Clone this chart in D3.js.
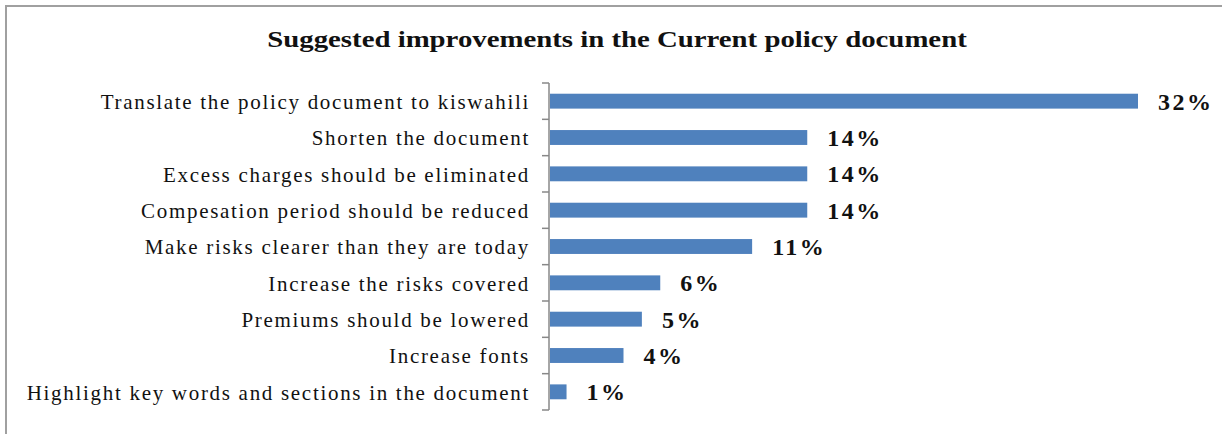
<!DOCTYPE html>
<html>
<head>
<meta charset="utf-8">
<script src="https://cdn.jsdelivr.net/npm/d3@7"></script>
<style>
  html, body { margin: 0; padding: 0; background: #fff; }
  svg { display: block; }
  text { font-family: "Liberation Serif", "Times New Roman", serif; fill: #111; }
</style>
</head>
<body>
<div class="chart"></div>
<script>
// categories, top to bottom
var categories = [
  "Translate the policy document to kiswahili",
  "Shorten the document",
  "Excess charges should be eliminated",
  "Compesation period should be reduced",
  "Make risks clearer than they are today",
  "Increase the risks covered",
  "Premiums should be lowered",
  "Increase fonts",
  "Highlight key words and sections in the document"
]
var values = [32, 14, 14, 14, 11, 6, 5, 4, 0.9]
var labels = ["32%", "14%", "14%", "14%", "11%", "6%", "5%", "4%", "1%"]
var title = "Suggested improvements in the Current policy document"

var width = 1222
var height = 434
var margin = { top: 83, left: 550, bottom: 24, right: 84 }

var svg = d3.select(".chart").append("svg")
  .attr("width", width)
  .attr("height", height)

// outer frame
svg.append("rect")
  .attr("x", 6).attr("y", 6)
  .attr("width", width + 10).attr("height", height + 10)
  .attr("fill", "none")
  .attr("stroke", "#a0a0a0")
  .attr("stroke-width", 2)

svg.append("text")
  .attr("transform", "translate(617,47) scale(1.2,1)")
  .attr("text-anchor", "middle")
  .style("font-size", "24px")
  .style("font-weight", "bold")
  .text(title)

var x = d3.scaleLinear().domain([0, 32]).range([margin.left, width - margin.right])
var y = d3.scaleBand().domain(categories).range([margin.top, height - margin.bottom]).paddingInner(0.59).paddingOuter(0.295)

var data = categories.map(function (c, i) {
  return { cat: c, value: values[i], label: labels[i] }
})

svg.selectAll(".bar")
  .data(data)
  .enter()
  .append("rect")
  .attr("class", "bar")
  .attr("x", x(0))
  .attr("y", function (d) { return y(d.cat) })
  .attr("width", function (d) { return x(d.value) - x(0) })
  .attr("height", y.bandwidth())
  .attr("fill", "#4f81bd")

svg.selectAll(".val")
  .data(data)
  .enter()
  .append("text")
  .attr("class", "val")
  .attr("x", function (d) { return x(d.value) + 20 })
  .attr("y", function (d) { return y(d.cat) + y.bandwidth() / 2 })
  .attr("dy", "0.36em")
  .style("font-size", "24px")
  .style("font-weight", "bold")
  .style("letter-spacing", "2.5px")
  .text(function (d) { return d.label })

// y axis: line with ticks at band edges
var step = y.step()
var edges = d3.range(categories.length + 1).map(function (i) { return margin.top + i * step })
var axisX = x(0) - 1
svg.append("line")
  .attr("x1", axisX).attr("x2", axisX)
  .attr("y1", edges[0]).attr("y2", edges[edges.length - 1])
  .attr("stroke", "#888")
  .attr("stroke-width", 1.5)
svg.selectAll(".tick")
  .data(edges)
  .enter()
  .append("line")
  .attr("x1", axisX - 7).attr("x2", axisX)
  .attr("y1", function (d) { return d }).attr("y2", function (d) { return d })
  .attr("stroke", "#888")
  .attr("stroke-width", 1.5)

svg.selectAll(".cat")
  .data(data)
  .enter()
  .append("text")
  .attr("class", "cat")
  .attr("x", axisX - 19)
  .attr("y", function (d) { return y(d.cat) + y.bandwidth() / 2 })
  .attr("dy", "0.38em")
  .attr("text-anchor", "end")
  .style("font-size", "21px")
  .style("letter-spacing", "1.7px")
  .text(function (d) { return d.cat })
</script>
</body>
</html>
